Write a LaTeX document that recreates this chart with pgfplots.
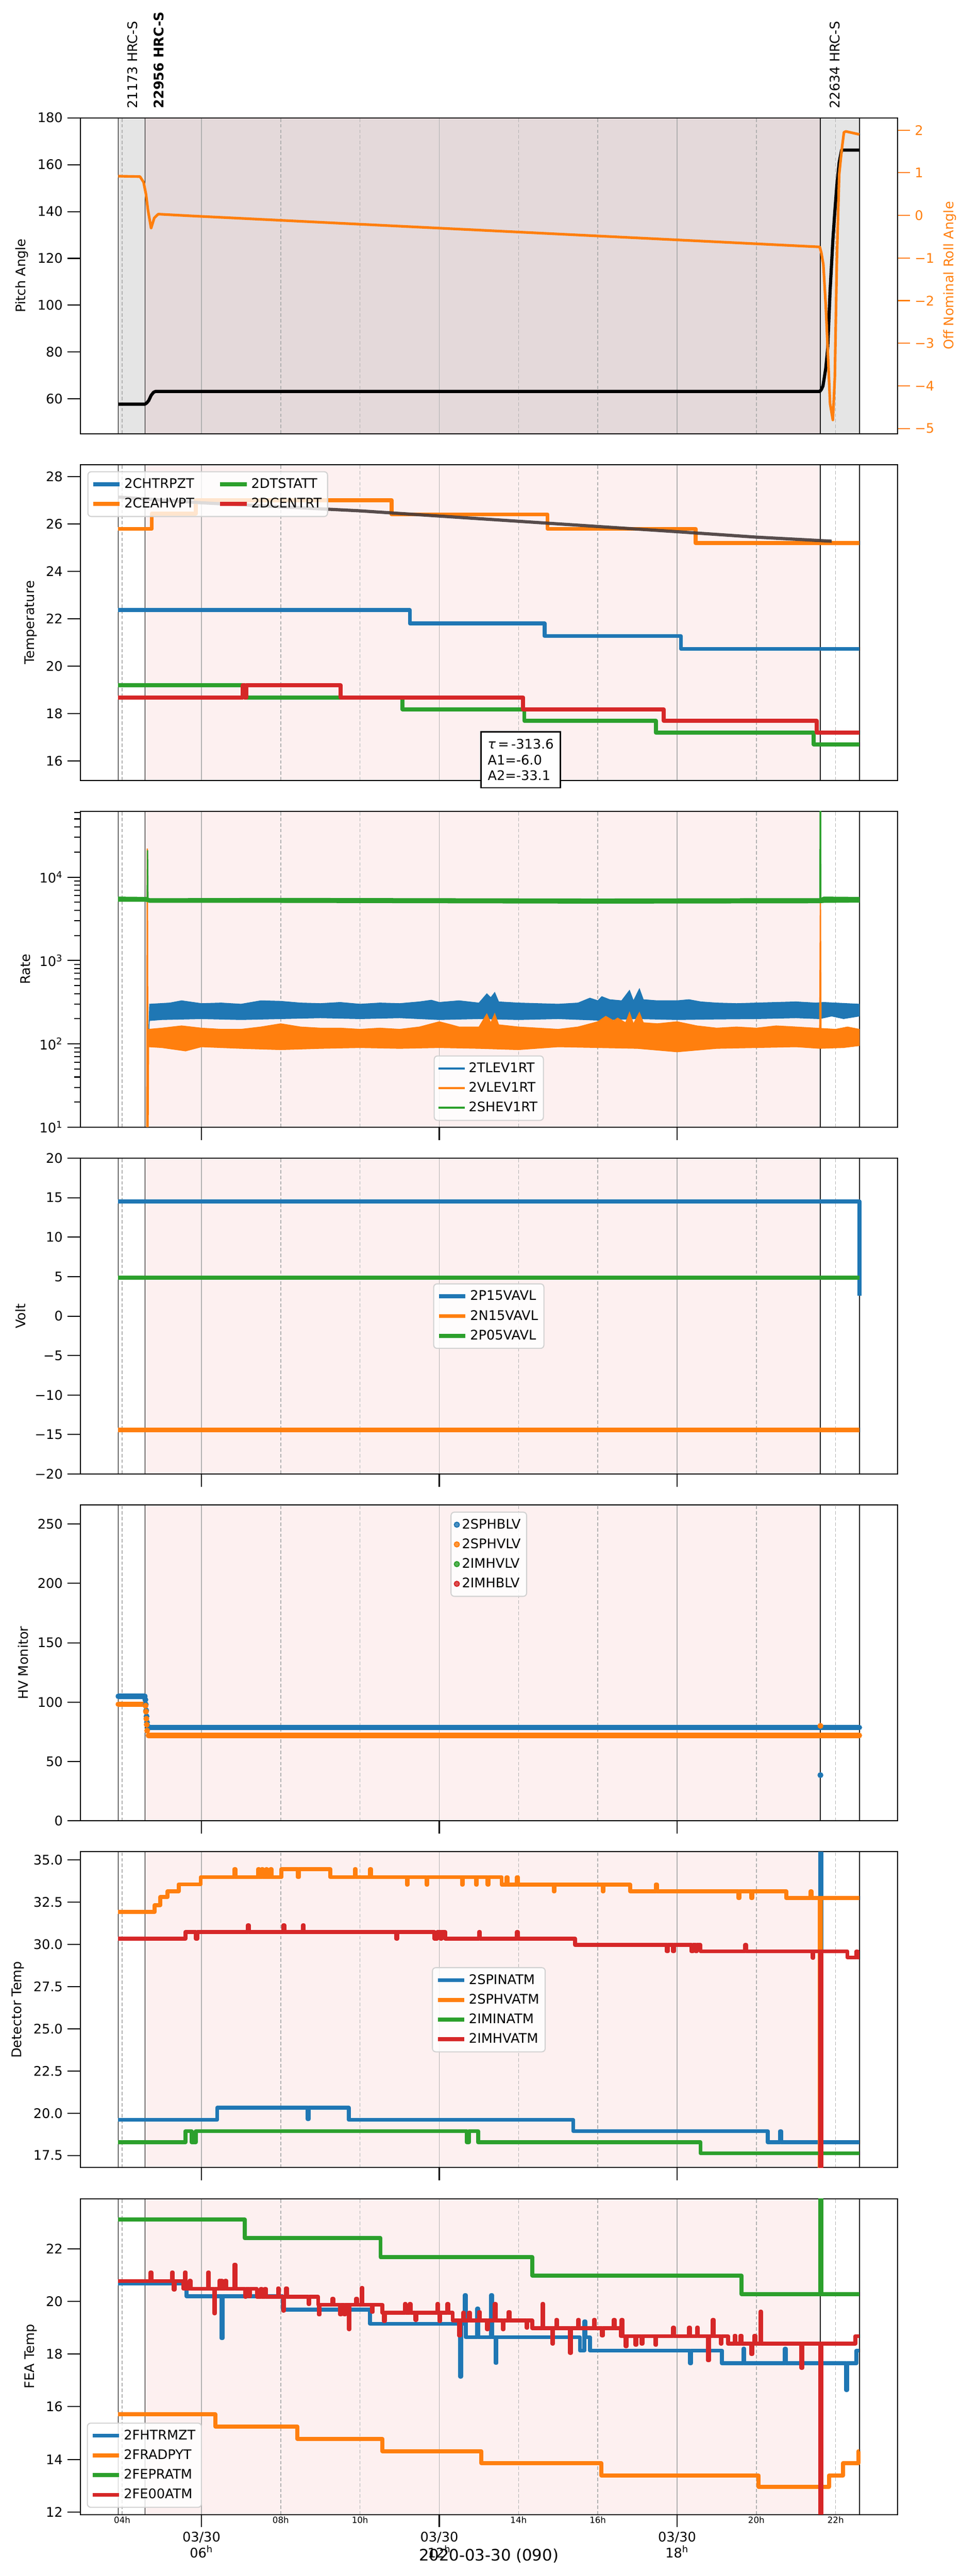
\documentclass[border=0pt]{standalone}
\usepackage{fontspec}
\setmainfont{DejaVu Sans}
\usepackage{pgfplots}
\pgfplotsset{compat=1.18}
\definecolor{C0}{HTML}{1F77B4}
\definecolor{C1}{HTML}{FF7F0E}
\definecolor{C2}{HTML}{2CA02C}
\definecolor{C3}{HTML}{D62728}
\definecolor{shadeGray}{HTML}{E5E5E5}
\definecolor{shadeMid}{HTML}{E4D9DA}
\definecolor{shadePink}{HTML}{FDF0F0}
\definecolor{gridgray}{HTML}{B0B0B0}
\definecolor{fitgray}{HTML}{453B3B}

\newcommand{\fs}[2]{\fontsize{#1}{#2}\selectfont}
\newcommand{\evline}[3]{\addplot[black, line width=0.6bp, forget plot] coordinates {(#1,#2) (#1,#3)};}
\newcommand{\evbg}[3]{%
  \addplot[fill=#1, draw=none, forget plot, on layer=axis background] coordinates {(4.575,#2) (21.615,#2) (21.615,#3) (4.575,#3)} -- cycle;
  \evline{3.9}{#2}{#3}\evline{4.575}{#2}{#3}\evline{21.615}{#2}{#3}\evline{22.6}{#2}{#3}}

\pgfplotsset{
  panel/.style={
    scale only axis, width=616.68bp, height=238.32bp, anchor=south west,
    xmin=2.94, xmax=23.56,
    set layers,
    axis line style={line width=0.8bp},
    tick align=outside, xtick pos=left, ytick pos=left,
    major tick length=9.6bp, minor tick length=4.5bp,
    every tick/.style={black, line width=0.8bp},
    xtick={6,12,18}, xticklabels={},
    xmajorgrids, major grid style={gridgray, line width=0.6bp},
    extra x ticks={4,8,10,14,16,20,22}, extra x tick labels={},
    extra x tick style={xmajorgrids, major grid style={gridgray, line width=0.6bp, dash pattern=on 2.6bp off 1.6bp}, major tick length=0pt},
    tick label style={font=\fs{10}{12}},
    label style={font=\fs{10}{12}},
    /pgf/number format/assume math mode=true,
    legend cell align=left,
    legend style={draw=black!18, line width=0.8bp, rounded corners=2.5bp, fill=white, fill opacity=0.8, draw opacity=1, text opacity=1, font=\fs{10}{12}, inner xsep=2.5bp, inner ysep=3bp, row sep=2bp},
    legend image code/.code={\draw[##1, line cap=butt] (0bp,0bp) -- (20bp,0bp);},
  },
  stepw/.style={line width=3bp, line join=round, const plot, forget plot},
}

\begin{document}
\begin{tikzpicture}

% ---------------- Panel 1 ----------------
\begin{axis}[panel, at={(60.48bp,1616.76bp)}, ymin=45.2, ymax=180, ytick={60,80,...,180}, ylabel={Pitch Angle}, xtick style={draw=none}]
\addplot[fill=shadeGray, draw=none, forget plot, on layer=axis background] coordinates {(3.9,45.2) (22.6,45.2) (22.6,180) (3.9,180)} -- cycle;
\evbg{shadeMid}{45.2}{180}
\addplot[black, line width=2.4bp, line join=round] coordinates {(3.9,57.76) (4.575,57.76) (4.62,58.3) (4.67,59.3) (4.73,61.5) (4.79,62.8) (4.84,63.2) (21.6,63.2) (21.64,64) (21.68,65.5) (21.75,72.9) (21.80,81.6) (21.86,106) (21.93,127.6) (21.98,140) (22.03,151) (22.09,161) (22.15,166.2) (22.6,166.2)};
\end{axis}
\begin{axis}[scale only axis, width=616.68bp, height=238.32bp, anchor=south west, at={(60.48bp,1616.76bp)},
  xmin=2.94, xmax=23.56, axis x line=none, axis y line*=right,
  ymin=-5.12, ymax=2.29, ytick={-5,-4,...,2}, yticklabels={−5,−4,−3,−2,−1,0,1,2},
  ylabel={Off Nominal Roll Angle}, ylabel style={color=C1}, yticklabel style={color=C1},
  tick align=outside, major tick length=9.6bp, every tick/.style={C1, line width=0.8bp},
  axis line style={line width=0.8bp}, tick label style={font=\fs{10}{12}}, label style={font=\fs{10}{12}}]
\addplot[C1, line width=2bp, line join=round] coordinates {(3.9,0.92) (4.45,0.91) (4.54,0.78) (4.60,0.5) (4.65,0.13) (4.73,-0.30) (4.81,-0.06) (4.91,0.03) (5.7,-0.01) (21.6,-0.74) (21.64,-0.88) (21.69,-1.15) (21.75,-2.1) (21.80,-3.13) (21.86,-4.42) (21.93,-4.8) (21.98,-3.8) (22.03,-1.08) (22.09,0.96) (22.15,1.51) (22.21,1.95) (22.26,1.97) (22.6,1.9)};
\end{axis}
\node[rotate=90, anchor=north west, inner sep=0pt, font=\fs{10}{12}] at (96.1bp,1861.9bp) {21173 HRC-S};
\node[rotate=90, anchor=north west, inner sep=0pt, font=\fs{10}{12}\bfseries] at (115.9bp,1861.9bp) {22956 HRC-S};
\node[rotate=90, anchor=north west, inner sep=0pt, font=\fs{10}{12}] at (626bp,1861.9bp) {22634 HRC-S};

% ---------------- Panel 2 ----------------
\begin{axis}[panel, at={(60.48bp,1355.04bp)}, ymin=15.18, ymax=28.5, ytick={16,18,...,28}, ylabel={Temperature}, xtick style={draw=none},
  legend columns=2, legend style={at={(0.0088,0.979)}, anchor=north west, /tikz/every even column/.append style={column sep=16bp}}]
\evbg{shadePink}{15.18}{28.5}
\addplot[C0, stepw] coordinates {(3.9,22.36) (11.259,21.8) (14.655,21.27) (18.097,20.73) (22.6,20.73)};
\addplot[C1, stepw] coordinates {(3.9,25.79) (4.746,26.43) (5.857,27.0) (10.796,26.4) (14.732,25.79) (18.466,25.19) (22.6,25.19)};
\addplot[C2, stepw] coordinates {(3.9,19.19) (7.092,18.68) (11.074,18.18) (14.146,17.69) (17.464,17.19) (21.446,16.7) (22.6,16.7)};
\addplot[C3, stepw] coordinates {(3.9,18.68) (7.04,19.19) (7.09,18.68) (7.13,19.19) (9.515,18.68) (14.115,18.18) (17.665,17.69) (21.523,17.19) (22.6,17.19)};
\addplot[fitgray, line width=2.4bp, opacity=0.9, forget plot] coordinates {(3.9,27.13) (6,26.89) (8,26.72) (10,26.55) (12,26.33) (14,26.11) (16,25.89) (18,25.67) (20,25.44) (21.9,25.27)};
\addlegendimage{C0, line width=3bp}\addlegendentry{2CHTRPZT}
\addlegendimage{C2, line width=3bp}\addlegendentry{2DTSTATT}
\addlegendimage{C1, line width=3bp}\addlegendentry{2CEAHVPT}
\addlegendimage{C3, line width=3bp}\addlegendentry{2DCENTRT}
\end{axis}

% ---------------- Panel 3 ----------------
\begin{axis}[panel, at={(60.48bp,1093.32bp)}, ymode=log, ymin=10, ymax=61500,
  ytick={10,100,1000,10000}, yticklabels={10\textsuperscript{1},10\textsuperscript{2},10\textsuperscript{3},10\textsuperscript{4}},
  minor ytick={20,30,40,50,60,70,80,90,200,300,400,500,600,700,800,900,2000,3000,4000,5000,6000,7000,8000,9000,20000,30000,40000,50000,60000},
  ylabel={Rate}, legend style={at={(0.5,0.02)}, anchor=south}]
\evbg{shadePink}{10}{61500}
\addplot[fill=C0, draw=C0, line width=0.4bp, forget plot] coordinates {
 (4.665,120) (4.69,300) (5.2,310) (5.5,330) (6.0,305) (6.5,310) (7.0,300) (7.5,330) (8.0,325) (8.5,310) (9.0,305) (9.5,315) (10.0,300) (10.5,310) (11.0,305) (11.5,320) (11.8,335) (12.0,315) (12.5,330) (13.0,310) (13.2,400) (13.3,360) (13.4,415) (13.5,320) (14.0,310) (14.5,305) (15.0,300) (15.5,310) (15.8,355) (16.0,330) (16.1,370) (16.3,340) (16.6,330) (16.8,440) (16.9,330) (17.05,460) (17.15,340) (17.5,330) (18.0,330) (18.3,340) (18.6,320) (19.0,310) (19.5,305) (20.0,310) (20.5,315) (21.0,320) (21.5,310) (21.7,315) (22.0,310) (22.6,300)
 (22.6,215) (22.2,200) (21.9,215) (21.6,200) (21.0,205) (20.0,200) (19.0,198) (18.0,195) (17.0,200) (16.0,192) (15.0,200) (14.0,195) (13.0,200) (12.0,195) (11.0,205) (10.0,200) (9.0,205) (8.0,200) (7.0,195) (6.0,200) (5.0,195) (4.69,190)} -- cycle;
\addplot[fill=C1, draw=C1, line width=0.4bp, forget plot] coordinates {
 (4.67,150) (5.0,155) (5.5,165) (6.0,155) (6.5,150) (7.0,150) (7.5,160) (8.0,175) (8.5,160) (9.0,155) (9.5,155) (10.0,150) (10.5,155) (11.0,150) (11.5,160) (12.0,185) (12.3,170) (12.5,160) (13.0,160) (13.2,230) (13.3,180) (13.4,232) (13.5,170) (14.0,160) (14.5,155) (15.0,150) (15.5,160) (16.0,185) (16.2,215) (16.4,190) (16.5,205) (16.7,180) (16.8,240) (16.9,175) (17.05,240) (17.15,180) (17.5,175) (18.0,185) (18.5,165) (19.0,155) (19.5,160) (20.0,155) (20.5,165) (21.0,160) (21.5,155) (22.0,150) (22.3,160) (22.6,150)
 (22.6,95) (22.2,90) (21.6,88) (21.0,92) (20.0,90) (19.0,88) (18.0,80) (17.0,88) (16.0,90) (15.0,92) (14.0,85) (13.0,88) (12.0,90) (11.0,88) (10.0,90) (9.0,88) (8.0,85) (7.0,88) (6.0,92) (5.6,82) (5.0,90) (4.67,92)} -- cycle;
\addplot[C1, line width=1bp, forget plot] coordinates {(4.62,5) (4.635,22000) (4.65,5) (4.665,125)};
\addplot[C1, line width=1bp, forget plot] coordinates {(21.6,120) (21.616,5000) (21.63,120)};
\addplot[fill=C2, draw=C2, line width=0.4bp, forget plot] coordinates {
 (3.9,5800) (4.6,5750) (4.7,5550) (8,5600) (12,5550) (16,5500) (20,5550) (21.6,5550) (21.7,5800) (22.6,5750)
 (22.6,5000) (21.7,4950) (21.6,4900) (16,4850) (12,4900) (8,4950) (4.7,4950) (4.6,5100) (3.9,5100)} -- cycle;
\addplot[C2, line width=1bp, forget plot] coordinates {(4.63,5300) (4.64,21000) (4.65,5300)};
\addplot[C2, line width=1bp, forget plot] coordinates {(21.605,5300) (21.616,1000000) (21.625,5300)};
\addlegendimage{C0, line width=1.5bp}\addlegendentry{2TLEV1RT}
\addlegendimage{C1, line width=1.5bp}\addlegendentry{2VLEV1RT}
\addlegendimage{C2, line width=1.5bp}\addlegendentry{2SHEV1RT}
\end{axis}

% ---------------- Panel 4 ----------------
\begin{axis}[panel, at={(60.48bp,831.6bp)}, ymin=-20, ymax=20, ytick={-20,-15,...,20},
  yticklabels={−20,−15,−10,−5,0,5,10,15,20}, ylabel={Volt}, legend style={at={(0.5,0.5)}, anchor=center}]
\evbg{shadePink}{-20}{20}
\addplot[C0, line width=3bp, line join=round, forget plot] coordinates {(3.9,14.53) (22.6,14.53) (22.6,2.6)};
\addplot[C1, line width=3.2bp, forget plot] coordinates {(3.9,-14.41) (22.6,-14.41)};
\addplot[C2, line width=3bp, forget plot] coordinates {(3.9,4.87) (22.6,4.87)};
\addlegendimage{C0, line width=3bp}\addlegendentry{2P15VAVL}
\addlegendimage{C1, line width=3bp}\addlegendentry{2N15VAVL}
\addlegendimage{C2, line width=3bp}\addlegendentry{2P05VAVL}
\end{axis}

% ---------------- Panel 5 ----------------
\begin{axis}[panel, at={(60.48bp,569.88bp)}, ymin=0, ymax=266, ytick={0,50,...,250}, ylabel={HV Monitor},
  legend style={at={(0.5,0.979)}, anchor=north},
  legend image code/.code={\draw[mark repeat=2, mark phase=2, #1] plot coordinates {(0bp,0bp) (10bp,0bp) (20bp,0bp)};}]
\evbg{shadePink}{0}{266}
\addplot[C0, line width=4bp, line cap=round, forget plot] coordinates {(3.9,104.9) (4.575,104.9)};
\addplot[C0, only marks, mark=*, mark size=2bp, forget plot] coordinates {(4.585,102) (4.595,98) (4.605,93) (4.615,88) (4.625,83) (4.64,80) (21.616,38.5)};
\addplot[C0, line width=4bp, line cap=round, forget plot] coordinates {(4.67,78.6) (22.6,78.6)};
\addplot[C1, line width=4bp, line cap=round, forget plot] coordinates {(3.9,98.3) (4.575,98.3)};
\addplot[C1, only marks, mark=*, mark size=2bp, forget plot] coordinates {(4.59,97) (4.6,92) (4.61,86) (4.62,81) (4.63,76) (21.616,80)};
\addplot[C1, line width=4bp, line cap=round, forget plot] coordinates {(4.66,71.9) (22.6,71.9)};
\addlegendimage{only marks, mark=*, mark size=1.9bp, C0}\addlegendentry{2SPHBLV}
\addlegendimage{only marks, mark=*, mark size=1.9bp, C1}\addlegendentry{2SPHVLV}
\addlegendimage{only marks, mark=*, mark size=1.9bp, C2}\addlegendentry{2IMHVLV}
\addlegendimage{only marks, mark=*, mark size=1.9bp, C3}\addlegendentry{2IMHBLV}
\end{axis}

% ---------------- Panel 6 ----------------
\begin{axis}[panel, at={(60.48bp,308.16bp)}, ymin=16.78, ymax=35.47, ytick={17.5,20,...,35},
  yticklabel style={/pgf/number format/.cd, fixed, fixed zerofill, precision=1},
  ylabel={Detector Temp}, legend style={at={(0.5,0.5)}, anchor=center}]
\evbg{shadePink}{16.78}{35.47}
\addplot[C0, stepw] coordinates {(3.9,19.61) (6.397,20.32) (8.681,19.65) (8.705,20.32) (9.715,19.61) (15.38,18.94) (20.288,18.28) (20.598,18.94) (20.622,18.28) (21.616,50) (21.64,18.28) (22.6,18.28)};
\addplot[C1, stepw] coordinates {(3.9,31.92) (4.822,32.32) (4.962,32.79) (5.147,33.13) (5.425,33.55) (5.981,33.97)
 (6.829,34.44) (6.855,33.97) (7.431,34.44) (7.455,33.97) (7.524,34.44) (7.55,33.97) (7.632,34.44) (7.655,33.97) (7.74,34.44) (7.765,33.97)
 (8.018,34.44) (8.434,33.97) (8.46,34.44)
 (9.253,33.97) (9.87,34.44) (9.895,33.97) (10.255,34.44) (10.28,33.97)
 (11.181,33.53) (11.205,33.97) (11.676,33.53) (11.7,33.97) (12.571,33.53) (12.595,33.97) (12.926,33.53) (12.95,33.97) (13.22,33.53) (13.245,33.97)
 (13.574,33.53) (13.7,33.97) (13.72,33.53) (13.96,33.97) (13.985,33.53)
 (14.886,33.13) (14.91,33.53) (16.121,33.13) (16.145,33.53)
 (16.816,33.13) (17.464,33.55) (17.49,33.13)
 (19.548,32.73) (19.572,33.13) (19.872,32.73) (19.896,33.13)
 (20.752,32.73) (21.369,33.13) (21.393,32.73)
 (21.6,10) (21.63,32.73) (22.6,32.73)};
\addplot[C2, stepw] coordinates {(3.9,18.28) (5.594,18.94) (5.75,18.28) (5.857,18.94) (12.695,18.28) (12.75,18.94) (12.98,18.28) (18.59,17.63) (22.6,17.63)};
\addplot[C3, stepw] coordinates {(3.9,30.34) (5.594,30.72) (5.857,30.34) (5.9,30.72)
 (7.169,31.12) (7.195,30.72) (8.065,31.12) (8.09,30.72) (8.558,31.12) (8.583,30.72)
 (10.919,30.34) (10.945,30.72) (11.876,30.34) (11.95,30.72) (12.03,30.34) (12.06,30.72)
 (12.154,30.34) (13.003,30.72) (13.028,30.34) (13.96,30.72) (13.985,30.34)
 (15.427,29.96) (17.742,29.58) (17.767,29.96) (17.896,29.58) (17.92,29.96) (18.36,29.58) (18.4,29.96) (18.47,29.58) (18.5,29.96)
 (18.59,29.58) (19.718,29.96) (19.742,29.58) (21.415,29.2) (21.44,29.58)
 (21.616,5) (21.64,29.58)
 (22.295,29.22) (22.526,29.58) (22.55,29.22) (22.6,29.22)};
\addlegendimage{C0, line width=3bp}\addlegendentry{2SPINATM}
\addlegendimage{C1, line width=3bp}\addlegendentry{2SPHVATM}
\addlegendimage{C2, line width=3bp}\addlegendentry{2IMINATM}
\addlegendimage{C3, line width=3bp}\addlegendentry{2IMHVATM}
\end{axis}

% ---------------- Panel 7 ----------------
\begin{axis}[panel, at={(60.48bp,46.44bp)}, ymin=11.91, ymax=23.9, ytick={12,14,...,22}, ylabel={FEA Temp},
  xticklabels={{03/30\\06\textsuperscript{h}},{03/30\\12\textsuperscript{h}},{03/30\\18\textsuperscript{h}}},
  xticklabel style={align=center, font=\fs{10}{12}},
  extra x tick labels={04h,08h,10h,14h,16h,20h,22h},
  extra x tick style={xmajorgrids, major grid style={gridgray, line width=0.6bp, dash pattern=on 2.6bp off 1.6bp}, major tick length=0pt, xticklabel style={font=\fs{6.5}{8}, inner sep=1.5bp}},
  legend style={at={(0.0082,0.021)}, anchor=south west}]
\evbg{shadePink}{11.91}{23.9}
\addplot[C0, stepw] coordinates {(3.9,20.68) (5.625,20.19) (6.505,18.6) (6.53,20.19) (8.049,19.68) (10.255,19.15) (12.525,17.15) (12.55,19.15) (12.648,20.24) (12.67,18.64) (12.957,19.72) (12.98,18.64) (13.311,20.24) (13.335,18.64) (13.42,17.66) (13.445,18.64) (15.55,18.13) (15.66,19.24) (15.69,18.64) (15.8,18.13) (18.328,17.65) (18.35,18.13) (19.131,17.65) (19.671,18.2) (19.695,17.65) (20.72,18.2) (20.745,17.65) (22.264,16.64) (22.29,17.65) (22.526,18.13) (22.6,18.13)};
\addplot[C1, stepw] coordinates {(3.9,15.71) (6.351,15.25) (8.42,14.78) (10.565,14.31) (13.064,13.86) (16.09,13.39) (20.057,12.96) (21.831,13.39) (22.187,13.86) (22.572,14.31) (22.6,14.31)};
\addplot[C2, stepw] coordinates {(3.9,23.11) (7.092,22.4) (10.518,21.68) (14.346,20.98) (19.625,20.28) (21.616,40) (21.64,20.28) (22.6,20.28)};
\addplot[C3, stepw] coordinates {(3.9,20.77) (4.715,21.1) (4.74,20.77) (5.255,21.1) (5.28,20.77) (5.3,20.45) (5.325,20.77)
 (5.548,20.48) (5.58,21.1) (5.605,20.48) (5.7,20.78) (5.725,20.48) (6.166,21.1) (6.19,20.48) (6.32,19.55) (6.345,20.48) (6.45,20.78) (6.475,20.48) (6.5,20.78) (6.525,20.48) (6.6,20.78) (6.625,20.48) (6.829,21.4) (6.855,20.48) (7.1,20.17) (7.125,20.48) (7.2,20.2) (7.225,20.48)
 (7.4,20.17) (7.5,20.48) (7.525,20.17) (7.6,20.48) (7.625,20.17) (7.93,20.5) (7.955,20.17) (8.06,19.65) (8.085,20.17) (8.13,20.5) (8.155,20.17) (8.7,19.9) (8.725,20.17)
 (8.944,19.87) (8.96,19.5) (8.985,19.87) (9.3,20.1) (9.325,19.87) (9.5,19.5) (9.525,19.87) (9.6,19.5) (9.625,19.87) (9.715,18.95) (9.74,19.87) (9.9,20.1) (9.925,19.87) (10.04,20.51) (10.065,19.87) (10.3,19.6) (10.325,19.87)
 (10.565,19.57) (10.6,19.25) (10.625,19.57) (11.13,19.9) (11.155,19.57) (11.25,19.9) (11.275,19.57) (11.4,19.3) (11.425,19.57) (11.95,19.9) (11.975,19.57) (12.0,19.25) (12.025,19.57) (12.2,19.9) (12.225,19.57)
 (12.34,19.27) (12.5,18.7) (12.525,19.27) (12.6,19.57) (12.625,19.27) (12.75,19.57) (12.775,19.27) (13.0,19.6) (13.025,19.27) (13.2,18.95) (13.225,19.27) (13.4,19.9) (13.425,19.27) (13.6,18.95) (13.625,19.27) (13.75,19.6) (13.775,19.27) (14.2,19.0) (14.225,19.27)
 (14.346,18.98) (14.6,19.9) (14.625,18.98) (14.85,18.4) (14.875,18.98) (14.95,19.3) (14.975,18.98) (15.3,18.05) (15.325,18.98) (15.5,19.3) (15.525,18.98) (15.9,19.3) (15.925,18.98) (16.1,18.7) (16.125,18.98) (16.4,19.3) (16.425,18.98)
 (16.584,18.68) (16.6,19.3) (16.625,18.68) (16.7,18.3) (16.725,18.68) (16.95,18.35) (16.975,18.68) (17.1,18.4) (17.125,18.68) (17.45,18.35) (17.475,18.68) (17.9,19.0) (17.925,18.68) (18.3,19.0) (18.325,18.68) (18.5,19.0) (18.525,18.68) (18.78,17.76) (18.805,18.68) (18.9,19.3) (18.925,18.68) (19.1,18.4) (19.125,18.68)
 (19.285,18.39) (19.45,18.7) (19.475,18.39) (19.6,18.7) (19.625,18.39) (19.87,18.0) (19.895,18.39) (19.95,18.7) (19.975,18.39) (20.1,19.61) (20.125,18.39) (21.137,17.48) (21.162,18.39) (21.616,5) (21.64,18.39)
 (22.495,18.68) (22.6,18.68)};
\addlegendimage{C0, line width=3bp}\addlegendentry{2FHTRMZT}
\addlegendimage{C1, line width=3bp}\addlegendentry{2FRADPYT}
\addlegendimage{C2, line width=3bp}\addlegendentry{2FEPRATM}
\addlegendimage{C3, line width=3bp}\addlegendentry{2FE00ATM}
\end{axis}

% annotation box (panel 2) and x label
\node[draw=black, line width=1bp, fill=white, anchor=north west, align=left, inner xsep=5bp, inner ysep=4.5bp, font=\fs{10}{12}, minimum width=59.4bp, minimum height=42.1bp] at (362.5bp,1392.1bp) {\textit{τ}\,=\,-313.6\\A1=-6.0\\A2=-33.1};
\node[anchor=base, font=\fs{12}{14}] at (368.82bp,11.52bp) {2020-03-30 (090)};
\useasboundingbox (0,0) rectangle (720bp,1944bp);
\end{tikzpicture}
\end{document}
